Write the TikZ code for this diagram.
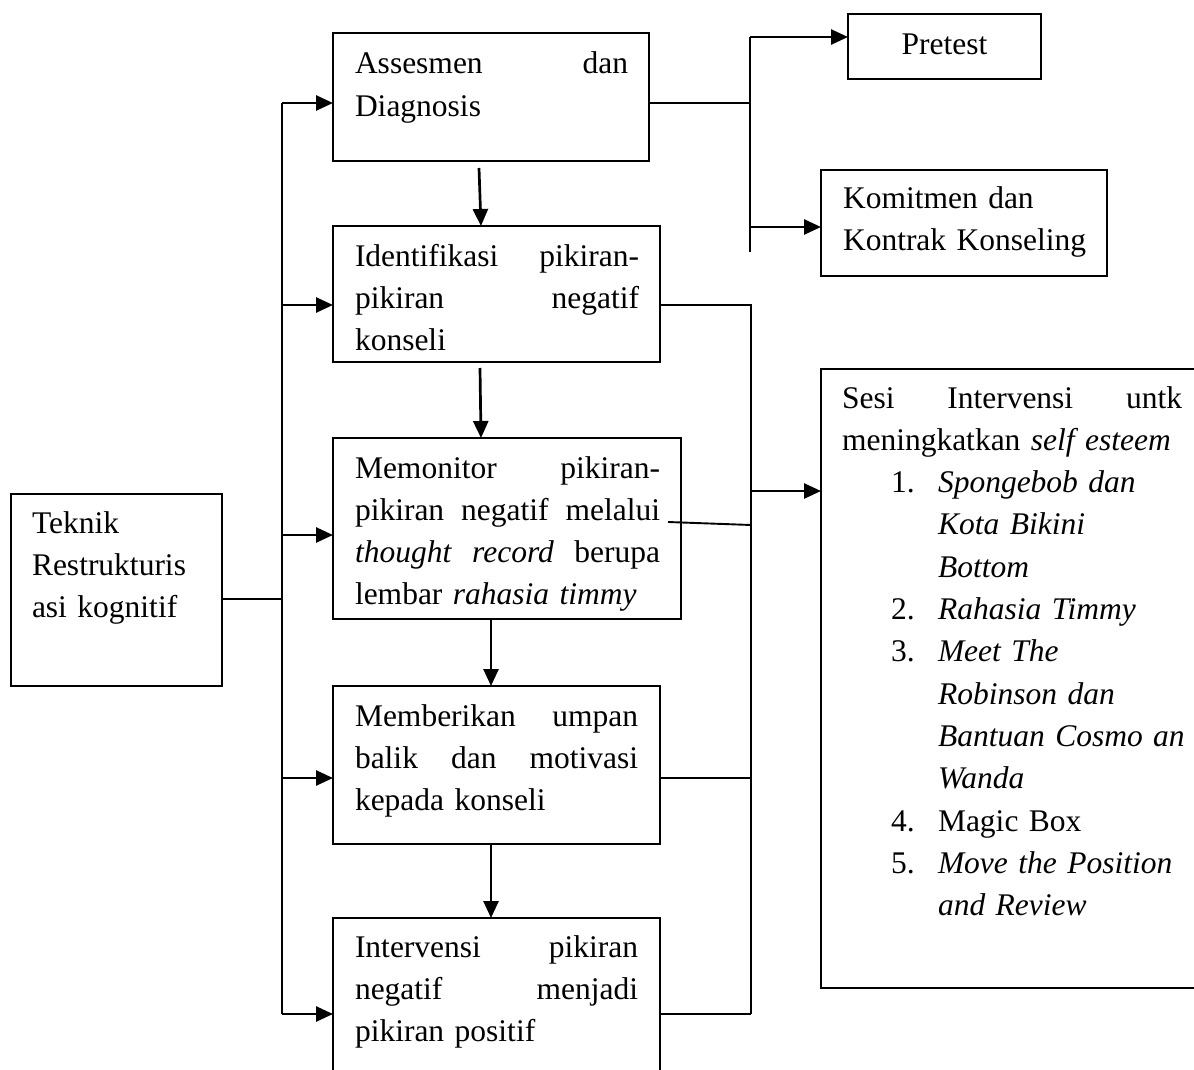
\documentclass[tikz,border=0pt]{standalone}
\usepackage{fontspec}
\setmainfont{Liberation Serif}
\usetikzlibrary{arrows.meta}
\newcommand{\myjust}[2]{\leavevmode\hbox to #1{#2}}
\newcommand{\st}{\rule{0pt}{30pt}}
\tikzset{
  box/.style={draw, line width=2.1pt, inner sep=0pt, outer sep=0pt},
  txt/.style={anchor=north west, inner sep=0pt, outer sep=0pt, align=left,
    font=\fontsize{31.5}{42.3}\selectfont},
  arr/.style={line width=2.7pt, -{Triangle[length=17pt,width=15pt]}},
  trunk/.style={line width=2.7pt},
  conn/.style={line width=1.9pt},
}
\begin{document}
\begin{tikzpicture}[x=1pt,y=-1pt]
\path[use as bounding box] (0,0) rectangle (1194,1070);
\clip (0,0) rectangle (1194,1070);

% boxes
\node[box, minimum width=316pt, minimum height=128pt] (A) at (491,97) {};
\node[box, minimum width=327pt, minimum height=136pt] (I) at (496.5,294) {};
\node[box, minimum width=348pt, minimum height=181pt] (M) at (507,528.5) {};
\node[box, minimum width=327pt, minimum height=158pt] (B) at (496.5,765) {};
\node[box, minimum width=327pt, minimum height=172pt] (V) at (496.5,1004) {};
\node[box, minimum width=211pt, minimum height=192pt] (T) at (116.5,590) {};
\node[box, minimum width=193pt, minimum height=65pt] (P) at (944.5,46.5) {};
\node[box, minimum width=286pt, minimum height=106pt] (K) at (964,223) {};
\node[box, minimum width=389pt, minimum height=619pt] (S) at (1015.5,678.5) {};

% texts
\node[txt, text width=300pt] (tA) at (355,44)
  {\st\myjust{273pt}{Assesmen\hfill dan}\\Diagnosis};
\node[txt, text width=310pt] (tI) at (355,236)
  {\st\myjust{284pt}{Identifikasi\hfill pikiran-}\\
   \myjust{284pt}{pikiran\hfill negatif}\\konseli};
\node[txt, text width=320pt] (tM) at (355,448)
  {\st\myjust{305pt}{Memonitor\hfill pikiran-}\\
   \myjust{305pt}{pikiran\hfill negatif\hfill melalui}\\
   \myjust{305pt}{\textit{thought}\hfill\textit{record}\hfill berupa}\\
   lembar \textit{rahasia timmy}};
\node[txt, text width=300pt] (tB) at (355,696)
  {\st\myjust{283pt}{Memberikan\hfill umpan}\\
   \myjust{283pt}{balik\hfill dan\hfill motivasi}\\kepada konseli};
\node[txt, text width=300pt] (tV) at (355,927)
  {\st\myjust{283pt}{Intervensi\hfill pikiran}\\
   \myjust{283pt}{negatif\hfill menjadi}\\pikiran positif};
\node[txt, text width=185pt] (tT) at (32,503)
  {\st Teknik\\Restrukturis\\asi kognitif};
\node[txt, text width=262pt] (tK) at (843,178)
  {\st Komitmen dan\\Kontrak Konseling};
\node[anchor=base, inner sep=0pt, font=\fontsize{31.5}{42.3}\selectfont] (tP) at (944.5,55) {Pretest};
\node[txt, text width=348pt] (tS) at (842,378)
  {\st\myjust{340pt}{Sesi\hfill Intervensi\hfill untk}\\
   meningkatkan \textit{self esteem}\\
   \hspace*{49pt}\makebox[47pt][l]{1.}\textit{Spongebob dan}\\
   \hspace*{96pt}\textit{Kota Bikini}\\
   \hspace*{96pt}\textit{Bottom}\\
   \hspace*{49pt}\makebox[47pt][l]{2.}\textit{Rahasia Timmy}\\
   \hspace*{49pt}\makebox[47pt][l]{3.}\textit{Meet The}\\
   \hspace*{96pt}\textit{Robinson dan}\\
   \hspace*{96pt}\textit{Bantuan Cosmo an}\\
   \hspace*{96pt}\textit{Wanda}\\
   \hspace*{49pt}\makebox[47pt][l]{4.}Magic Box\\
   \hspace*{49pt}\makebox[47pt][l]{5.}\textit{Move the Position}\\
   \hspace*{96pt}\textit{and Review}};

% left trunk
\coordinate (L1) at (282,103);
\coordinate (L2) at (282,305);
\coordinate (L3) at (282,535);
\coordinate (L4) at (282,778);
\coordinate (L5) at (282,1014);
\coordinate (LT) at (282,599);
\draw[trunk] (L1) -- (L5);
\draw[arr] (L1) -- (L1 -| A.west);
\draw[arr] (L2) -- (L2 -| I.west);
\draw[arr] (L3) -- (L3 -| M.west);
\draw[arr] (L4) -- (L4 -| B.west);
\draw[arr] (L5) -- (L5 -| V.west);
\draw[conn] (T.east |- LT) -- (LT);

% top branch
\coordinate (Q0) at (750,103);
\coordinate (QP) at (750,37);
\coordinate (QK) at (750,227);
\coordinate (QE) at (750,252);
\draw[conn] (A.east |- Q0) -- (Q0);
\draw[trunk] (QP) -- (QE);
\draw[arr] (QP) -- (QP -| P.west);
\draw[arr] (QK) -- (QK -| K.west);

% right trunk
\coordinate (R1) at (751,305);
\coordinate (R2) at (751,525);
\coordinate (R3) at (751,778);
\coordinate (R4) at (751,1014);
\coordinate (RS) at (751,491);
\coordinate (MS) at (668,522);
\draw[conn] (I.east |- R1) -- (R1) -- (R4);
\draw[conn] (MS) -- (R2);
\draw[conn] (B.east |- R3) -- (R3);
\draw[conn] (V.east |- R4) -- (R4);
\draw[arr] (RS) -- (RS -| S.west);

% downward arrows
\draw[arr] ([xshift=-12pt,yshift=-7pt]A.south) -- ([xshift=-15.5pt]I.north);
\draw[arr] ([xshift=-16.5pt,yshift=-6pt]I.south) -- ([xshift=-26pt]M.north);
\draw[arr] ([xshift=-16pt]M.south) -- ([xshift=-5.5pt]B.north);
\draw[arr] ([xshift=-5.5pt]B.south) -- ([xshift=-5.5pt]V.north);
\end{tikzpicture}
\end{document}
